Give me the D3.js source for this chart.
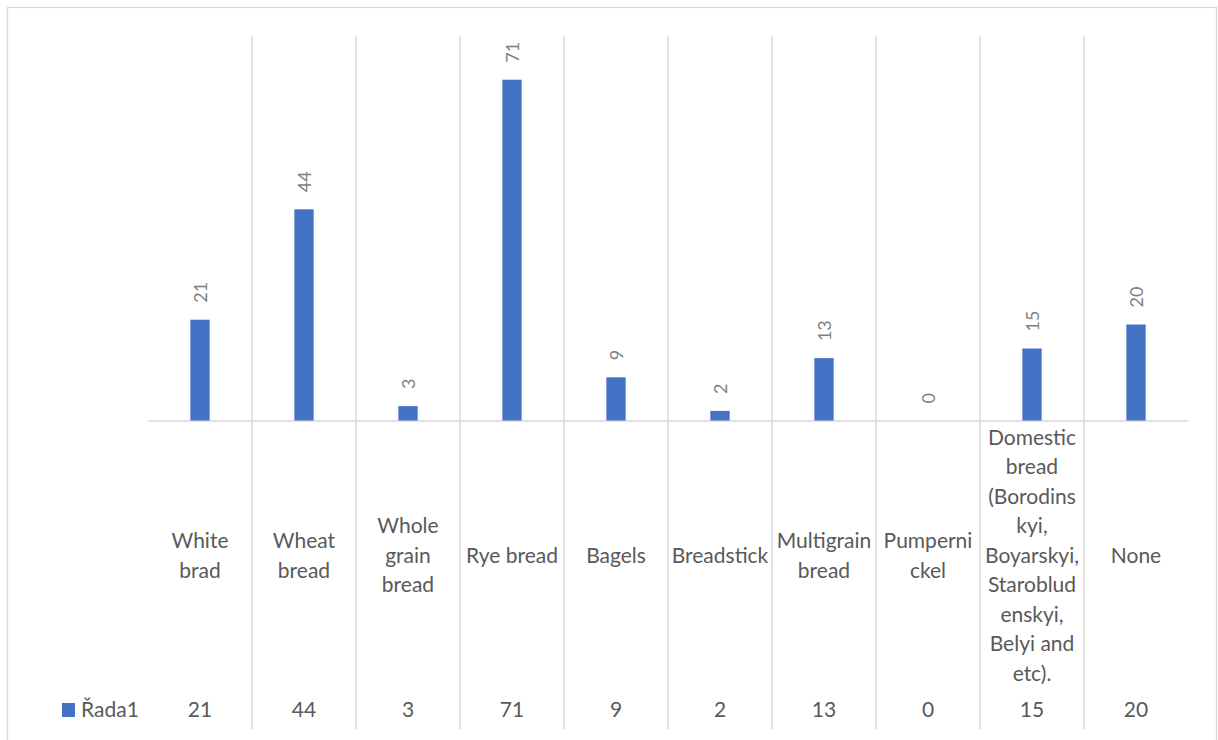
<!DOCTYPE html>
<html>
<head>
<meta charset="utf-8">
<script src="https://cdn.jsdelivr.net/npm/d3@7"></script>
<style>
  html, body { margin: 0; padding: 0; background: #ffffff; }
  svg { display: block; }
  text { font-family: "Lato", "Open Sans", sans-serif; }
</style>
</head>
<body>
<svg id="chart" width="1218" height="740"></svg>
<script>
// ---- data ----
const categories = [
  "White brad", "Wheat bread", "Whole grain bread", "Rye bread", "Bagels",
  "Breadstick", "Multigrain bread", "Pumpernickel",
  "Domestic bread (Borodinskyi, Boyarskyi, Starobludenskyi, Belyi and etc).",
  "None"
];
const categoryLines = [
  ["White", "brad"],
  ["Wheat", "bread"],
  ["Whole", "grain", "bread"],
  ["Rye bread"],
  ["Bagels"],
  ["Breadstick"],
  ["Multigrain", "bread"],
  ["Pumperni", "ckel"],
  ["Domestic", "bread", "(Borodins", "kyi,", "Boyarskyi,", "Staroblud", "enskyi,", "Belyi and", "etc)."],
  ["None"]
];
const seriesName = "Řada1";
const values = [21, 44, 3, 71, 9, 2, 13, 0, 15, 20];
const yDomain = [0, 80];

// ---- layout ----
const svg = d3.select("#chart");
const plotLeft = 148, plotRight = 1188, plotTop = 36.5, baseY = 420.5, tableBottom = 729;
const labelCenterY = 555.5, lineH = 29.5, valueRowY = 710;
const gridColor = "#d9d9d9", textColor = "#595959", labelColor = "#7f7f7f", barColor = "#4472c4";
const fontSize = 21;

// outer border
svg.append("rect").attr("x", 7.5).attr("y", 7.5).attr("width", 1209).attr("height", 740)
  .attr("fill", "#fff").attr("stroke", gridColor).attr("stroke-width", 1.3);

const x = d3.scaleBand().domain(categories).range([plotLeft, plotRight]).padding(0);
const y = d3.scaleLinear().domain(yDomain).range([baseY, plotTop]);

// vertical grid lines (category boundaries, excluding the outer ends)
const boundaries = categories.slice(1).map(c => x(c));
svg.append("g").selectAll("line").data(boundaries).join("line")
  .attr("x1", d => d).attr("x2", d => d)
  .attr("y1", plotTop).attr("y2", tableBottom)
  .attr("stroke", gridColor).attr("stroke-width", 1.5);

// axis line
const axisG = svg.append("g").attr("transform", `translate(0,${baseY})`)
  .call(d3.axisBottom(x).tickSize(0).tickFormat(""));
axisG.select(".domain").attr("stroke", gridColor).attr("stroke-width", 1.5);

// bars
const barW = x.bandwidth() * 0.186;
svg.append("g").selectAll("rect").data(values).join("rect")
  .attr("x", (d, i) => x(categories[i]) + x.bandwidth() / 2 - barW / 2)
  .attr("width", barW)
  .attr("y", d => y(d))
  .attr("height", d => baseY - y(d))
  .attr("fill", barColor);

// data labels (rotated)
svg.append("g").selectAll("text").data(values).join("text")
  .attr("transform", (d, i) => {
    const cx = x(categories[i]) + x.bandwidth() / 2;
    return `translate(${cx + 6.5},${y(d) - 17}) rotate(-90)`;
  })
  .attr("text-anchor", "start")
  .attr("font-size", 18)
  .attr("fill", labelColor)
  .text(d => d);

// category labels
const catG = svg.append("g");
categoryLines.forEach((lines, i) => {
  const cx = x(categories[i]) + x.bandwidth() / 2;
  const startY = labelCenterY - (lines.length - 1) * lineH / 2;
  const t = catG.append("text")
    .attr("text-anchor", "middle")
    .attr("font-size", fontSize)
    .attr("fill", textColor);
  lines.forEach((ln, j) => {
    t.append("tspan").attr("x", cx).attr("y", startY + j * lineH).attr("dy", "0.35em").text(ln);
  });
});

// data table value row
svg.append("g").selectAll("text").data(values).join("text")
  .attr("x", (d, i) => x(categories[i]) + x.bandwidth() / 2)
  .attr("y", valueRowY).attr("dy", "0.35em")
  .attr("text-anchor", "middle")
  .attr("font-size", fontSize)
  .attr("fill", textColor)
  .text(d => d);

// legend key + series name
svg.append("rect").attr("x", 62).attr("y", 703).attr("width", 13).attr("height", 14).attr("fill", barColor);
svg.append("text").attr("x", 81).attr("y", valueRowY).attr("dy", "0.35em")
  .attr("font-size", fontSize).attr("fill", textColor).text(seriesName);
</script>
</body>
</html>
